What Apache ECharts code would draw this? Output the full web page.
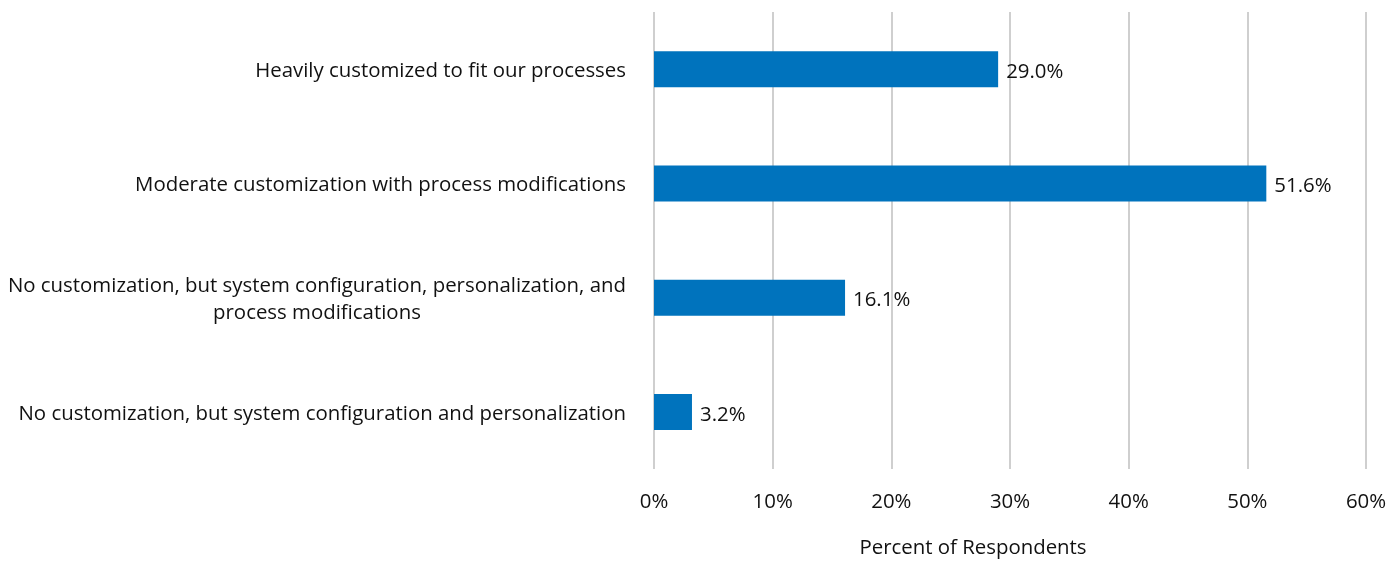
<!DOCTYPE html>
<html>
<head>
<meta charset="utf-8">
<script src="https://cdn.jsdelivr.net/npm/echarts@6/dist/echarts.min.js"></script>
<style>
  html, body { margin: 0; padding: 0; background: #fff; }
  #chart { width: 1396px; height: 563px; }
</style>
</head>
<body>
<div id="chart"></div>
<script>
// Survey responses: degree of system customization
const categories = [
  'Heavily customized to fit our processes',
  'Moderate customization with process modifications',
  'No customization, but system configuration, personalization, and\nprocess modifications',
  'No customization, but system configuration and personalization'
];
const shares = [29.0, 51.6, 16.1, 3.2];
const tickLabels = ['0%', '10%', '20%', '30%', '40%', '50%', '60%'];

const FONT = '"Open Sans", sans-serif';
const SIZE = 20.4;
const INK = '#111111';
const chart = echarts.init(document.getElementById('chart'), null, { renderer: 'canvas' });

chart.setOption({
  animation: false,
  backgroundColor: '#ffffff',
  grid: { left: 654, right: 30, top: 12, bottom: 90, containLabel: false },
  xAxis: {
    type: 'value',
    min: 0,
    max: 60,
    interval: 10,
    name: 'Percent of Respondents',
    nameLocation: 'middle',
    nameGap: 69,
    nameTextStyle: { fontFamily: FONT, fontSize: SIZE, color: INK, padding: [0, 74, 0, 0] },
    axisLine: { show: false },
    axisTick: { show: false },
    axisLabel: {
      margin: 23,
      fontFamily: FONT,
      fontSize: SIZE,
      color: INK,
      formatter: (v) => tickLabels[Math.round(v / 10)]
    },
    splitLine: { show: true, lineStyle: { color: '#bfbfbf', width: 1.5 } }
  },
  yAxis: {
    type: 'category',
    inverse: true,
    data: categories,
    axisLine: { show: false },
    axisTick: { show: false },
    axisLabel: {
      margin: 28,
      padding: [4, 0, 0, 0],
      fontFamily: FONT,
      fontSize: SIZE,
      color: INK,
      formatter: (v) => '{c|' + v.split('\n').join('}\n{c|') + '}',
      rich: { c: { align: 'center', fontFamily: FONT, fontSize: SIZE, color: INK, lineHeight: 27 } }
    }
  },
  series: [{
    type: 'bar',
    data: shares,
    barWidth: 36,
    itemStyle: { color: '#0073bd' },
    label: {
      show: true,
      position: 'right',
      distance: 8,
      offset: [0, 3],
      fontFamily: FONT,
      fontSize: SIZE,
      color: INK,
      formatter: (p) => p.value.toFixed(1) + '%'
    }
  }]
});
</script>
</body>
</html>
